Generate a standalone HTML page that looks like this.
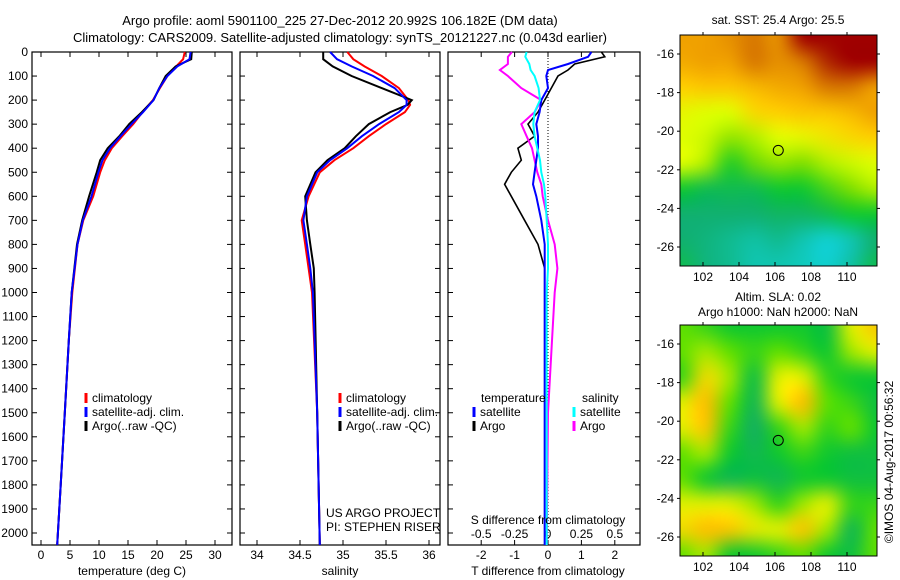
<!DOCTYPE html>
<html><head><meta charset="utf-8"><style>
body{margin:0;background:#fff;width:900px;height:580px;overflow:hidden;position:relative}
svg{font-family:"Liberation Sans",sans-serif;font-size:12px;position:absolute;left:0;top:0;z-index:1}
canvas{position:absolute;z-index:0}
</style></head><body>
<canvas id="c1" width="197" height="231" style="left:680px;top:35px"></canvas>
<canvas id="c2" width="197" height="231" style="left:680px;top:325px"></canvas>
<svg id="s" width="900" height="580">
<text x="340" y="25" text-anchor="middle" font-size="13">Argo profile: aoml 5901100_225 27-Dec-2012 20.992S 106.182E (DM data)</text>
<text x="340" y="42" text-anchor="middle" font-size="13">Climatology: CARS2009. Satellite-adjusted climatology: synTS_20121227.nc (0.043d earlier)</text>
</svg>
<script>
// ---- data ----
const depthTicks=[0,100,200,300,400,500,600,700,800,900,1000,1100,1200,1300,1400,1500,1600,1700,1800,1900,2000];
const tTicks=[0,5,10,15,20,25,30];
const sTicks=[34,34.5,35,35.5,36];
const dTTicks=[-2,-1,0,1,2];
const dSTicks=[-0.5,-0.25,0,0.25,0.5];
const dSLabels=["-0.5","-0.25","0","0.25","0.5"];
const tDepth=[0,30,60,100,150,200,250,300,350,400,450,500,600,700,800,1000,1200,1500,1800,2050];
const tClim=[24.8,24.5,23.3,21.8,20.5,19.3,17.5,15.9,14,12.2,11,10.2,9,7.3,6.3,5.4,4.8,4.1,3.4,2.8];
const tSat =[25.8,25.6,23.5,21.8,20.4,19.4,17.6,15.6,13.7,11.9,10.6,9.9,8.7,7.2,6.3,5.3,4.8,4.1,3.4,2.8];
const tArgo=[26.0,25.9,23.2,21.5,20.4,19.4,17.4,15.2,13.5,11.5,10.2,9.6,8.3,7.1,6.2,5.3,4.8,4.1,3.4,2.8];
const sDepth=[0,30,60,100,150,200,220,250,300,350,400,450,500,600,700,800,900,1000,1500,2050];
const sClim=[35.05,35.12,35.25,35.45,35.65,35.76,35.78,35.72,35.5,35.3,35.12,34.9,34.73,34.6,34.52,34.56,34.6,34.64,34.7,34.73];
const sSat =[34.85,34.93,35.1,35.35,35.6,35.74,35.74,35.65,35.42,35.22,35.05,34.85,34.7,34.58,34.54,34.58,34.62,34.65,34.7,34.73];
const sArgo=[34.77,34.77,34.88,35.1,35.45,35.8,35.75,35.55,35.3,35.15,35.02,34.82,34.68,34.56,34.58,34.62,34.66,34.67,34.7,34.73];
const dDepth=[0,20,50,75,100,150,200,250,300,350,400,450,500,550,600,700,800,900,1000,1200,1500,2050];
const dTSat=[1.3,1.2,0.6,0.0,-0.05,0.0,-0.2,-0.25,-0.35,-0.3,-0.3,-0.35,-0.4,-0.45,-0.35,-0.2,-0.1,-0.1,-0.1,-0.1,-0.1,-0.1];
const dTArgo=[1.6,1.7,0.8,0.6,0.3,0.1,-0.1,-0.3,-0.6,-0.4,-0.9,-0.8,-1.1,-1.3,-1.1,-0.7,-0.3,-0.1,-0.1,-0.1,-0.1,-0.1];
const dSSat=[-0.16,-0.17,-0.14,-0.13,-0.1,-0.07,-0.06,-0.1,-0.11,-0.1,-0.08,-0.06,-0.05,-0.03,-0.02,-0.01,0.0,0.0,-0.01,-0.01,-0.01,-0.01];
const dSArgo=[-0.27,-0.3,-0.3,-0.36,-0.3,-0.2,-0.05,-0.1,-0.2,-0.16,-0.12,-0.1,-0.08,-0.05,-0.04,0.0,0.05,0.07,0.05,0.03,0.0,-0.01];
const lonTicks=[102,104,106,108,110];
const latTicks=[-16,-18,-20,-22,-24,-26];
const sstGrid=[
[.8,.8,.82,.85,.82,1,1,1,1],[.78,.8,.8,.85,.82,.85,.95,1,1],[.7,.72,.72,.75,.78,.8,.85,.85,.8],
[.62,.6,.6,.68,.7,.72,.72,.75,.8],[.6,.58,.52,.55,.6,.62,.65,.68,.7],[.6,.55,.42,.48,.52,.5,.55,.58,.6],
[.4,.35,.35,.35,.4,.4,.45,.5,.55],[.3,.3,.3,.3,.32,.32,.35,.4,.4],[.3,.28,.25,.22,.25,.2,.15,.2,.3],
[.35,.28,.25,.2,.2,.18,.15,.22,.35]];
const slaGrid=[
[.5,.45,.4,.4,.4,.4,.35,.6,.7],[.5,.55,.5,.45,.5,.45,.4,.55,.6],[.45,.65,.55,.35,.6,.6,.45,.4,.4],
[.6,.72,.5,.3,.6,.72,.5,.45,.35],[.6,.7,.45,.25,.45,.55,.45,.5,.4],[.5,.55,.4,.3,.4,.45,.4,.35,.35],
[.5,.4,.3,.35,.3,.4,.4,.35,.35],[.6,.6,.6,.55,.45,.55,.6,.45,.45],[.65,.72,.7,.62,.6,.7,.55,.3,.5],
[.5,.55,.4,.4,.45,.5,.4,.35,.5]];
const argoLon=106.182, argoLat=-20.992;

const S=document.getElementById('s'),NS='http://www.w3.org/2000/svg';
function el(t,a,p){const e=document.createElementNS(NS,t);for(const k in a)e.setAttribute(k,a[k]);(p||S).appendChild(e);return e;}
function txt(x,y,s,a,p){const e=el('text',Object.assign({x:x,y:y},a||{}),p);e.textContent=s;return e;}
const yD=d=>52+d*0.2405;
const PT=52,PB=545;
function panel(x0,x1,name){
  const g=el('g',{});
  const r=el('rect',{x:x0,y:PT,width:x1-x0,height:PB-PT,fill:'none',stroke:'#000','stroke-width':1.2},g);
  
  depthTicks.forEach(d=>{el('line',{x1:x0,x2:x0+5,y1:yD(d),y2:yD(d),stroke:'#000'},g);el('line',{x1:x1,x2:x1-5,y1:yD(d),y2:yD(d),stroke:'#000'},g);});
  return g;}
function xticks(g,ticks,fx,labels,ly,top){
  ticks.forEach((v,i)=>{const x=fx(v);
    el('line',{x1:x,x2:x,y1:PB,y2:PB-5,stroke:'#000'},g);
    if(top)el('line',{x1:x,x2:x,y1:PT,y2:PT+5,stroke:'#000'},g);
    const t=txt(x,ly,labels?labels[i]:String(v),{'text-anchor':'middle'},g);
    });}
function line(g,xs,ds,fx,col,w,name){
  const p=el('polyline',{points:xs.map((v,i)=>fx(v).toFixed(1)+','+yD(ds[i]).toFixed(1)).join(' '),fill:'none',stroke:col,'stroke-width':w},g);
  }
function legend(g,x,y,col,label){
  el('line',{x1:x,x2:x,y1:y-9,y2:y+1,stroke:col,'stroke-width':3},g);
  const t=txt(x+6,y,label,{},g);
  }
depthTicks.forEach(d=>{const t=txt(28,yD(d)+4,String(d),{'text-anchor':'end'});
  });
// Panel 1
const fT=v=>41+v*5.8;
let g1=panel(32,232,'temperature-panel');
xticks(g1,tTicks,fT,null,559,true);
line(g1,tClim,tDepth,fT,'#f00',2,'temp-climatology-line');
line(g1,tArgo,tDepth,fT,'#000',2,'temp-argo-line');
line(g1,tSat,tDepth,fT,'#00f',2,'temp-satellite-line');
legend(g1,86,402,'#f00','climatology');legend(g1,86,416,'#00f','satellite-adj. clim.');legend(g1,86,430,'#000','Argo(..raw -QC)');
let t1=txt(132,575,'temperature (deg C)',{'text-anchor':'middle'});
// Panel 2
const fS=v=>257+(v-34)*86;
let g2=panel(240,440,'salinity-panel');
xticks(g2,sTicks,fS,null,559,true);
line(g2,sClim,sDepth,fS,'#f00',2,'sal-climatology-line');
line(g2,sArgo,sDepth,fS,'#000',2,'sal-argo-line');
line(g2,sSat,sDepth,fS,'#00f',2,'sal-satellite-line');
legend(g2,340,402,'#f00','climatology');legend(g2,340,416,'#00f','satellite-adj. clim.');legend(g2,340,430,'#000','Argo(..raw -QC)');
let t2=txt(340,575,'salinity',{'text-anchor':'middle'});
let c1=txt(326,517,'US ARGO PROJECT',{});
let c2=txt(326,531,'PI: STEPHEN RISER',{});
// Panel 3
const fdT=v=>548+v*33.4, fdS=v=>548+v*133.6;
let g3=panel(448,640,'difference-panel');
xticks(g3,dTTicks,fdT,null,559,false);
dSTicks.forEach((v,i)=>{const x=fdS(v);el('line',{x1:x,x2:x,y1:PT,y2:PT+5,stroke:'#000'},g3);
  const t=txt(x,538,dSLabels[i],{'text-anchor':'middle'},g3);});
el('line',{x1:fdT(0),x2:fdT(0),y1:PT,y2:PB,stroke:'#000','stroke-dasharray':'1,2'},g3);
line(g3,dTArgo,dDepth,fdT,'#000',1.6,'tdiff-argo-line');
line(g3,dSArgo,dDepth,fdS,'#f0f',2,'sdiff-argo-line');
line(g3,dTSat,dDepth,fdT,'#00f',2,'tdiff-satellite-line');
line(g3,dSSat,dDepth,fdS,'#0ff',2,'sdiff-satellite-line');
let lt=txt(481,402,'temperature',{});
let ls=txt(582,402,'salinity',{});
legend(g3,474,416,'#00f','satellite');legend(g3,474,430,'#000','Argo');
legend(g3,574,416,'#0ff','satellite');legend(g3,574,430,'#f0f','Argo');
let t3=txt(548,524,'S difference from climatology',{'text-anchor':'middle'});
let t4=txt(548,575,'T difference from climatology',{'text-anchor':'middle'});
// Maps
function cmap(v,stops){for(let i=1;i<stops.length;i++){if(v<=stops[i][0]||i==stops.length-1){const a=stops[i-1],b=stops[i];let f=Math.max(0,Math.min(1,(v-a[0])/(b[0]-a[0])));
  return 'rgb('+[0,1,2].map(k=>Math.round(a[1][k]+(b[1][k]-a[1][k])*f)).join(',')+')';}}}
const sstStops=[[0,[16,176,255]],[.15,[16,208,208]],[.3,[16,176,112]],[.4,[16,200,48]],[.5,[128,224,0]],[.6,[224,255,0]],[.7,[255,208,0]],[.8,[240,160,0]],[.9,[192,80,0]],[1,[160,0,0]]];
const slaStops=[[.25,[16,176,96]],[.4,[16,200,48]],[.5,[96,224,0]],[.6,[224,240,0]],[.72,[255,192,0]]];
const MX0=680,MX1=877,lonX=l=>703+(l-102)*18;
function map(y0,grid,stops,name,cid){
  const y1=y0+231,latY=l=>y0+19+(-16-l)*19.3;
  const R=grid.length,C=grid[0].length;
  const sm=document.createElement('canvas');sm.width=C;sm.height=R;const sx=sm.getContext('2d');
  grid.forEach((row,r)=>row.forEach((v,c)=>{sx.fillStyle=cmap(v,stops);sx.fillRect(c,r,1,1);}));
  const cv=document.getElementById(cid),cx=cv.getContext('2d');cx.imageSmoothingEnabled=true;cx.imageSmoothingQuality='high';
  cx.drawImage(sm,0,0,C,R,-cv.width/C/2,-cv.height/R/2,cv.width*(1+1/C),cv.height*(1+1/R));
  const g=el('g',{});
  el('rect',{x:MX0,y:y0,width:MX1-MX0,height:y1-y0,fill:'none',stroke:'#000'},g);
  lonTicks.forEach(l=>{const x=lonX(l);el('line',{x1:x,x2:x,y1:y1,y2:y1-4,stroke:'#000'},g);el('line',{x1:x,x2:x,y1:y0,y2:y0-3,stroke:'#000'},g);
    const t=txt(x,y1+15,String(l),{'text-anchor':'middle'},g);});
  latTicks.forEach(l=>{const y=latY(l);el('line',{x1:MX0,x2:MX0-3,y1:y,y2:y,stroke:'#000'},g);el('line',{x1:MX1,x2:MX1+3,y1:y,y2:y,stroke:'#000'},g);
    const t=txt(674,y+4,String(l),{'text-anchor':'end'},g);});
  const m=el('circle',{cx:lonX(argoLon),cy:latY(argoLat),r:5,fill:'none',stroke:'#000'},g);
  }
map(35,sstGrid,sstStops,'sst-map','c1');
map(325,slaGrid,slaStops,'sla-map','c2');
let m1=txt(778,24,'sat. SST: 25.4 Argo: 25.5',{'text-anchor':'middle'});
let m2=txt(778,301,'Altim. SLA: 0.02',{'text-anchor':'middle'});
let m3=txt(778,316,'Argo h1000: NaN h2000: NaN',{'text-anchor':'middle'});
let cr=txt(0,0,'©IMOS 04-Aug-2017 00:56:32',{'text-anchor':'middle',transform:'translate(893,462) rotate(-90)'});
</script>
</body></html>
